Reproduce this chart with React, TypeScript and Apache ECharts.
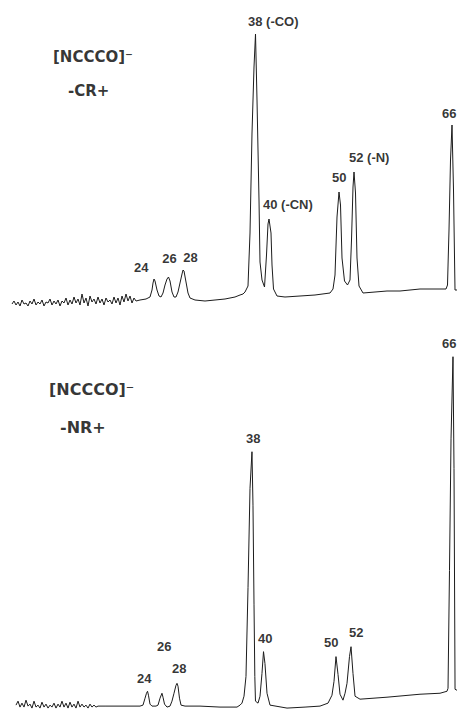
import React, { useEffect, useRef } from "react";
import * as echarts from "echarts";

// Trace of the upper spectrum (-CR+): [m/z, intensity]
const topTrace: [number, number][] = [
  [4.08, -4], [4.36, -1], [4.64, -5], [4.92, -2], [5.2, -6], [5.48, 0], [5.76, -4], [6.04, -3],
  [6.32, -6], [6.6, -1], [6.88, -4], [7.16, 1], [7.44, -5], [7.72, -2], [8.0, -4], [8.28, 0],
  [8.56, -6], [8.84, -2], [9.12, -3], [9.4, 1], [9.68, -5], [9.96, -1], [10.24, -4], [10.52, 0],
  [10.8, -6], [11.08, -1], [11.36, -3], [11.64, 2], [11.92, -5], [12.2, 0], [12.48, -4], [12.76, 3],
  [13.04, -3], [13.32, 1], [13.6, -5], [13.88, 6], [14.16, -3], [14.44, 2], [14.72, -6], [15.0, 4],
  [15.28, -2], [15.56, 1], [15.84, -4], [16.12, 3], [16.4, -3], [16.68, 1], [16.96, -5], [17.24, 2],
  [17.52, -2], [17.8, 0], [18.08, -4], [18.36, 3], [18.64, -3], [18.92, 2], [19.2, -5], [19.48, 4],
  [19.76, -2], [20.04, 6], [20.32, -1], [20.6, 4], [20.88, -3], [21.16, 2],
  [21.44, -1], [22.0, 0], [22.84, 1], [23.4, 3], [23.68, 10], [23.82, 17], [23.96, 21], [24.1, 19],
  [24.38, 10], [24.66, 4], [24.94, 3], [25.22, 7], [25.5, 15], [25.78, 21], [25.99, 23], [26.2, 19],
  [26.48, 8], [26.76, 3], [27.04, 3], [27.32, 8], [27.6, 17], [27.88, 26], [28.02, 30], [28.16, 29],
  [28.44, 18], [28.72, 7], [29.0, 2], [29.7, 0], [31.1, -1], [32.5, 0], [33.9, 1], [35.3, 3],
  [36.0, 5], [36.42, 6], [36.7, 8], [36.98, 12], [37.12, 14], [37.4, 67], [37.68, 167], [37.96, 233],
  [38.17, 266], [38.38, 200], [38.66, 100], [38.8, 38], [39.08, 20], [39.43, 13], [39.71, 45],
  [39.92, 76], [40.06, 81], [40.34, 67], [40.48, 35], [40.69, 11], [41.18, 4], [42.3, 3], [44.4, 4],
  [46.5, 5], [48.6, 7], [49.02, 11], [49.3, 25], [49.58, 83], [49.86, 108], [50.07, 95], [50.28, 42],
  [50.63, 19], [51.05, 15], [51.4, 20], [51.61, 60], [51.82, 113], [51.96, 128], [52.17, 107],
  [52.38, 42], [52.66, 14], [53.22, 7], [54.9, 8], [56.58, 9], [58.4, 9], [61.2, 11], [63.3, 11],
  [64.84, 11], [65.05, 15], [65.26, 70], [65.47, 140], [65.68, 175], [65.89, 110], [66.1, 10], [66.38, 10],
];

// Trace of the lower spectrum (-NR+): [m/z, intensity]
const bottomTrace: [number, number][] = [
  [5.99, 1], [6.27, 5], [6.54, -1], [6.81, 3], [7.09, -1], [7.36, 6], [7.64, 0], [7.91, 2],
  [8.18, -2], [8.46, 5], [8.73, -1], [9.01, 1], [9.28, -2], [9.55, 4], [9.83, -1], [10.1, 2],
  [10.38, -2], [10.65, 1], [10.92, -1], [11.2, 3], [11.47, -2], [11.75, 2], [12.02, -1], [12.29, 5],
  [12.57, -1], [12.84, 3], [13.12, -2], [13.39, 4], [13.66, -1], [13.94, 2], [14.21, -2], [14.49, 5],
  [14.76, -1], [15.03, 2], [15.31, -1], [15.58, 1], [15.86, -2], [16.13, 2], [16.4, -1], [16.68, 1],
  [16.95, -1], [17.23, 0],
  [18.19, 0], [20.24, 0], [22.98, 0], [23.39, 1], [23.67, 8], [23.87, 13], [24.01, 15], [24.14, 11],
  [24.35, 2], [24.62, 0], [25.17, 0], [25.45, 1], [25.72, 8], [25.99, 13], [26.13, 9], [26.34, 2],
  [26.68, -1], [27.09, 0], [27.36, 5], [27.64, 13], [27.91, 21], [28.05, 23], [28.19, 20], [28.39, 8],
  [28.6, 1], [29.15, 0], [31.2, 0], [33.94, -1], [36.27, -1], [36.68, 1], [36.95, 3], [37.23, 10],
  [37.5, 30], [37.78, 120], [38.05, 220], [38.32, 257], [38.46, 203], [38.6, 103], [38.71, 30],
  [38.8, 5], [39.15, 3], [39.42, 10], [39.69, 33], [39.9, 55], [40.1, 43], [40.38, 13], [40.79, 1],
  [43.12, -2], [45.59, -1], [47.64, 0], [48.74, 3], [49.28, 11], [49.56, 25], [49.83, 50], [50.11, 32],
  [50.38, 12], [50.79, 6], [51.07, 13], [51.34, 23], [51.68, 50], [51.89, 60], [52.16, 33], [52.44, 10],
  [53.12, 7], [56.82, 9], [61.34, 12], [64.08, 13], [65.04, 15], [65.18, 18], [65.38, 137], [65.59, 270],
  [65.86, 353], [66.0, 240], [66.14, 17], [66.41, 16],
];

// Peak labels: [m/z, intensity, text]
const topPeakLabels: [number, number, string][] = [
  [21.16, 33, "24"], [25.13, 42, "26"], [28.06, 43, "28"], [37.12, 279, "38 (-CO)"],
  [39.22, 96, "40 (-CN)"], [48.88, 123, "50"], [51.26, 143, "52 (-N)"], [64.28, 187, "66"],
];
const bottomPeakLabels: [number, number, string][] = [
  [22.57, 28, "24"], [25.31, 60, "26"], [27.36, 38, "28"], [37.5, 270, "38"],
  [39.15, 68, "40"], [48.19, 64, "50"], [51.61, 74, "52"], [64.35, 366, "66"],
];

// Panel titles: [m/z, intensity, text]
const topTitles: [number, number, string][] = [[9.82, 243, "[NCCCO]⁻"], [11.92, 209, "-CR+"]];
const bottomTitles: [number, number, string][] = [[10.51, 320, "[NCCCO]⁻"], [12.02, 281, "-NR+"]];

const LINE = "#1c1c1c";

function labelSeries(
  axisIndex: number,
  peaks: [number, number, string][],
  titles: [number, number, string][],
  titleSize: number
) {
  const data = [
    ...peaks.map((p) => ({
      value: [p[0], p[1]],
      label: { formatter: p[2], fontFamily: "Liberation Sans, Arial, sans-serif", fontSize: 13 },
    })),
    ...titles.map((t) => ({
      value: [t[0], t[1]],
      label: { formatter: t[2], fontFamily: "DejaVu Sans, sans-serif", fontSize: titleSize },
    })),
  ];
  return {
    type: "scatter",
    xAxisIndex: axisIndex,
    yAxisIndex: axisIndex,
    symbolSize: 0,
    clip: false,
    silent: true,
    data,
    label: {
      show: true,
      position: [0, 0],
      align: "left",
      verticalAlign: "middle",
      color: "#000",
      fontWeight: "bold",
    },
  };
}

export default function App() {
  const ref = useRef<HTMLDivElement>(null);
  useEffect(() => {
    if (!ref.current) return;
    const chart = echarts.init(ref.current, undefined, { renderer: "svg" });
    chart.setOption({
      animation: false,
      backgroundColor: "#ffffff",
      grid: [
        { left: 0, top: 0, width: 457, height: 340 },
        { left: 0, top: 330, width: 457, height: 390 },
      ],
      xAxis: [
        { type: "value", gridIndex: 0, min: 2.4, max: 66.38, show: false },
        { type: "value", gridIndex: 1, min: 3.8, max: 66.409, show: false },
      ],
      yAxis: [
        { type: "value", gridIndex: 0, min: -40, max: 300, show: false },
        { type: "value", gridIndex: 1, min: -10, max: 380, show: false },
      ],
      series: [
        {
          type: "line",
          xAxisIndex: 0,
          yAxisIndex: 0,
          data: topTrace,
          showSymbol: false,
          symbol: "none",
          silent: true,
          lineStyle: { color: LINE, width: 1 },
        },
        {
          type: "line",
          xAxisIndex: 1,
          yAxisIndex: 1,
          data: bottomTrace,
          showSymbol: false,
          symbol: "none",
          silent: true,
          lineStyle: { color: LINE, width: 1 },
        },
        labelSeries(0, topPeakLabels, topTitles, 15),
        labelSeries(1, bottomPeakLabels, bottomTitles, 16),
      ],
    });
    return () => chart.dispose();
  }, []);
  return (
    <div
      ref={ref}
      style={{ position: "fixed", left: 0, top: 0, width: 457, height: 716, background: "#fff" }}
    />
  );
}
